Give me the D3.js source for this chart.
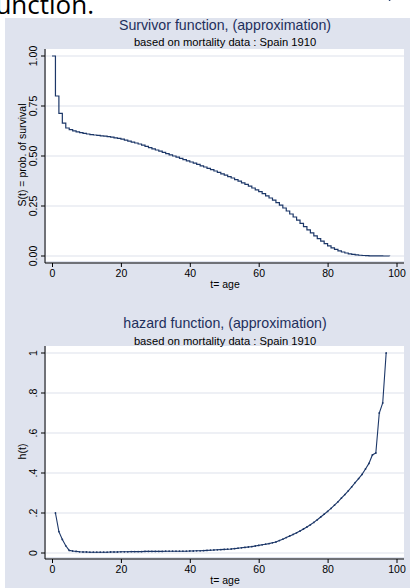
<!DOCTYPE html>
<html><head><meta charset="utf-8">
<script src="https://cdn.jsdelivr.net/npm/d3@7"></script>
<style>
html,body{margin:0;padding:0;background:#fff;}
svg{display:block;}
text{font-family:"Liberation Sans",Arial,sans-serif;}
</style></head>
<body>
<script>
// ---- data ----
const ages = d3.range(0, 99); // 0..98
const survival = [
 1.000,0.800,0.713,0.664,0.640,0.632,0.626,0.621,0.617,0.613,
 0.610,0.607,0.605,0.603,0.601,0.599,0.597,0.594,0.591,0.588,
 0.584,0.579,0.574,0.569,0.565,0.560,0.554,0.548,0.542,0.536,
 0.530,0.524,0.518,0.512,0.506,0.500,0.494,0.488,0.482,0.476,
 0.470,0.464,0.458,0.451,0.445,0.438,0.432,0.425,0.418,0.411,
 0.404,0.397,0.390,0.382,0.374,0.366,0.358,0.349,0.340,0.331,
 0.322,0.312,0.301,0.290,0.279,0.267,0.254,0.240,0.225,0.210,
 0.195,0.179,0.163,0.147,0.131,0.116,0.101,0.087,0.074,0.062,
 0.051,0.041,0.033,0.026,0.020,0.015,0.011,0.008,0.0055,0.0037,
 0.0024,0.0015,0.0009,0.0005,0.0003,0.00015,0.00005,0.00001,0.0
];
const hazAges = d3.range(1, 99); // 1..98
const hazard = [
 0.200,0.107,0.068,0.036,0.013,0.010,0.008,0.006,0.005,0.005,
 0.004,0.004,0.004,0.004,0.004,0.004,0.005,0.005,0.005,0.006,
 0.006,0.006,0.007,0.007,0.007,0.007,0.008,0.008,0.008,0.008,
 0.008,0.008,0.009,0.009,0.009,0.009,0.009,0.009,0.009,0.010,
 0.010,0.011,0.011,0.012,0.013,0.014,0.015,0.016,0.017,0.018,
 0.019,0.020,0.022,0.024,0.026,0.028,0.030,0.032,0.035,0.038,
 0.041,0.044,0.047,0.051,0.055,0.062,0.069,0.077,0.085,0.093,
 0.101,0.110,0.120,0.130,0.141,0.153,0.166,0.180,0.194,0.208,
 0.223,0.239,0.256,0.274,0.292,0.311,0.331,0.352,0.372,0.393,
 0.420,0.448,0.490,0.500,0.700,0.750,1.000
];
const xTicks = [0,20,40,60,80,100];
const sTicks = [0,0.25,0.5,0.75,1];
const sTickLabels = ["0.00","0.25","0.50","0.75","1.00"];
const hTicks = [0,0.2,0.4,0.6,0.8,1];
const hTickLabels = ["0",".2",".4",".6",".8","1"];

const W = 410, H = 588;
const BG = "#dfe3ee", GRID = "#dde2ec", LINE = "#1c3768", TITLE = "#1e2f5c";

const svg = d3.select("body").append("svg").attr("width", W).attr("height", H);
svg.append("rect").attr("x",0).attr("y",0).attr("width",W).attr("height",H).attr("fill","#fff");
svg.append("rect").attr("x",5).attr("y",18).attr("width",W-5).attr("height",H-18).attr("fill",BG);
// slide heading above the chart (partly cut off at the top, as in the reference)
svg.append("text").attr("x",94).attr("y",14).attr("text-anchor","end")
  .style("font-family","'Open Sans','Noto Sans',sans-serif").attr("font-size",26).attr("fill","#000")
  .text("function.");

const x = d3.scaleLinear().domain([0,100]).range([52,396.5]);

function panel(o){
  const g = svg.append("g");
  const y = d3.scaleLinear().domain([0,1]).range([o.y0, o.y1]);
  g.append("rect").attr("x",46).attr("y",o.top).attr("width",404-46).attr("height",o.bottom-o.top).attr("fill","#fff");
  g.selectAll(".grid").data(o.yTicks).enter().append("line")
    .attr("x1",46).attr("x2",404).attr("y1",d=>y(d)).attr("y2",d=>y(d))
    .attr("stroke",GRID).attr("stroke-width",1.2);
  g.append("text").attr("x",225).attr("y",o.titleY).attr("text-anchor","middle")
    .attr("font-size",14.2).attr("fill",TITLE).text(o.title);
  g.append("text").attr("x",225).attr("y",o.titleY+16.5).attr("text-anchor","middle")
    .attr("font-size",11.2).attr("fill","#000").text("based on mortality data : Spain 1910");
  const ya = d3.axisLeft(y).tickValues(o.yTicks).tickSize(4).tickFormat((d,i)=>o.yLabels[i]);
  const yg = g.append("g").attr("transform","translate(45,0)").call(ya);
  yg.select(".domain").attr("d",`M0,${o.top}V${o.bottom+2}`).attr("stroke","#000");
  yg.selectAll(".tick line").attr("stroke","#000");
  yg.selectAll(".tick").attr("transform",null);
  yg.selectAll(".tick line").attr("y1",d=>y(d)).attr("y2",d=>y(d));
  yg.selectAll(".tick text").attr("font-size",10.5).attr("fill","#000")
    .attr("font-family","'Liberation Sans',Arial,sans-serif")
    .attr("x",0).attr("y",0).attr("dy",null).attr("text-anchor","middle")
    .attr("transform",d=>`translate(-8,${y(d)}) rotate(-90)`);
  const xa = d3.axisBottom(x).tickValues(xTicks).tickSize(4).tickFormat(d3.format("d"));
  const xg = g.append("g").attr("transform",`translate(0,${o.bottom+2})`).call(xa);
  xg.select(".domain").attr("d","M45,0H404").attr("stroke","#000");
  xg.selectAll(".tick line").attr("stroke","#000");
  xg.selectAll(".tick text").attr("font-size",10.5).attr("fill","#000")
    .attr("font-family","'Liberation Sans',Arial,sans-serif").attr("y",7);
  g.append("text").attr("x",225).attr("y",o.bottom+27).attr("text-anchor","middle")
    .attr("font-size",10.5).attr("fill","#000").text("t= age");
  g.append("text").attr("transform",`translate(26,${(o.top+o.bottom)/2}) rotate(-90)`)
    .attr("text-anchor","middle").attr("font-size",10.5).attr("fill","#000").text(o.ylab);
  return {g,y};
}

const p1 = panel({top:49,bottom:261,y0:256,y1:56,yTicks:sTicks,yLabels:sTickLabels,
  title:"Survivor function, (approximation)",titleY:29.5,ylab:"S(t) = prob. of survival"});
p1.g.append("path").datum(ages.map((a,i)=>[a,survival[i]]))
  .attr("d",d3.line().x(d=>x(d[0])).y(d=>p1.y(d[1])).curve(d3.curveStepAfter))
  .attr("fill","none").attr("stroke",LINE).attr("stroke-width",1.2);

const p2 = panel({top:346,bottom:557,y0:553,y1:353,yTicks:hTicks,yLabels:hTickLabels,
  title:"hazard function, (approximation)",titleY:328,ylab:"h(t)"});
const hd = hazAges.map((a,i)=>[a,hazard[i]]);
p2.g.append("path").datum(hd)
  .attr("d",d3.line().x(d=>x(d[0])).y(d=>p2.y(d[1])))
  .attr("fill","none").attr("stroke",LINE).attr("stroke-width",1.1);
p2.g.selectAll(".pt").data(hd).enter().append("circle")
  .attr("cx",d=>x(d[0])).attr("cy",d=>p2.y(d[1])).attr("r",0.9).attr("fill",LINE);
</script>
</body></html>
